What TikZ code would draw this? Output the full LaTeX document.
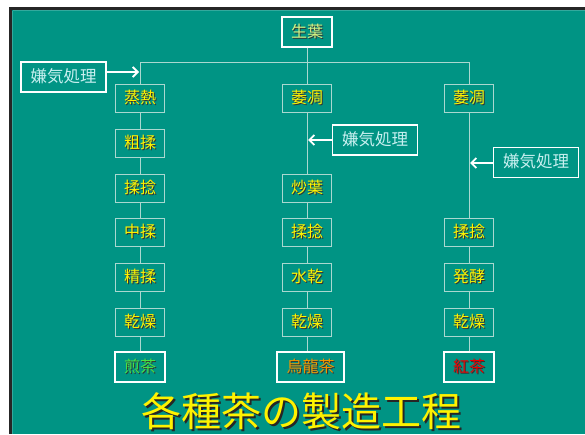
\documentclass[tikz,border=0pt]{standalone}
\usepackage{fontspec}
\newfontfamily\jp{Noto Sans CJK JP}
\usetikzlibrary{arrows.meta}
\definecolor{bg}{RGB}{0,148,132}
\definecolor{lnc}{RGB}{170,216,208}
\definecolor{kc}{RGB}{200,240,240}
\definecolor{seiyo}{RGB}{210,240,130}
\definecolor{sencha}{RGB}{70,225,70}
\definecolor{oolong}{RGB}{240,150,0}
\definecolor{kocha}{RGB}{235,0,0}
\newcommand\shtx[2]{\makebox[0pt][l]{\hspace{1pt}\raisebox{-1pt}{\color{black!80}#2}}{\color{#1}#2}}
\tikzset{
  base/.style={inner sep=0pt, font=\jp\fontsize{16}{16}\selectfont, text height=1.0em, text depth=0em, align=center},
  proc/.style={base, draw=lnc, line width=0.9pt, minimum width=49pt, minimum height=28pt},
  prod/.style={base, draw=white, line width=1.6pt, minimum width=50pt, minimum height=30pt},
  kbox/.style={base, draw=white, line width=1.6pt, minimum width=85pt, minimum height=30pt, text=kc, font=\jp\fontsize{16.5}{16.5}\selectfont},
  ln/.style={draw=lnc, line width=0.9pt},
  arr/.style={draw=white, line width=1.8pt, -{Straight Barb[length=5pt,width=10pt,line width=1.8pt]}},
}
\newcommand\Y[1]{\shtx{yellow}{#1}}
\begin{document}
\begin{tikzpicture}[x=1pt,y=-1pt]
\useasboundingbox (0,0) rectangle (585,434);
\fill[white] (0,0) rectangle (585,434);
\fill[black!85] (9,7) rectangle (585,434);
\fill[bg] (12,10) rectangle (585,434);
\draw[bg!80!white, line width=0.6pt] (12.5,10.5) -- (584.7,10.5);
\draw[bg!80!white, line width=0.6pt] (12.5,10.5) -- (12.5,434);
% top
\node[prod] (s) at (307,32) {\shtx{seiyo}{生葉}};
\coordinate (bar) at (0,62);
% column 1
\node[proc] (a1) at (140,98.5) {\Y{蒸熱}};
\node[proc] (a2) at (140,143) {\Y{粗揉}};
\node[proc] (a3) at (140,188) {\Y{揉捻}};
\node[proc] (a4) at (140,232.5) {\Y{中揉}};
\node[proc] (a5) at (140,277) {\Y{精揉}};
\node[proc] (a6) at (140,322) {\Y{乾燥}};
\node[prod] (a7) at (140,367) {\shtx{sencha}{煎茶}};
% column 2
\node[proc] (b1) at (307,98.5) {\Y{萎凋}};
\node[proc] (b3) at (307,188) {\Y{炒葉}};
\node[proc] (b4) at (307,232.5) {\Y{揉捻}};
\node[proc] (b5) at (307,277) {\Y{水乾}};
\node[proc] (b6) at (307,322) {\Y{乾燥}};
\node[prod, minimum width=67pt] (b7) at (310.5,367) {\shtx{oolong}{烏龍茶}};
% column 3
\node[proc] (c1) at (469,98.5) {\Y{萎凋}};
\node[proc] (c4) at (469,232.5) {\Y{揉捻}};
\node[proc] (c5) at (469,277) {\Y{発酵}};
\node[proc] (c6) at (469,322) {\Y{乾燥}};
\node[prod] (c7) at (469,367) {\shtx{kocha}{紅茶}};
% 嫌気処理 boxes
\node[kbox] (k1) at (63.5,77) {嫌気処理};
\node[kbox] (k2) at (375,140) {嫌気処理};
\node[kbox] (k3) at (536,162.5) {嫌気処理};
% connectors
\draw[ln] (s.south) -- (s.south |- bar);
\draw[ln] (a1.north) -- (a1.north |- bar) -- (c1.north |- bar) -- (c1.north);
\draw[ln] (b1.north) -- (b1.north |- bar);
\draw[ln] (a1) -- (a2); \draw[ln] (a2) -- (a3); \draw[ln] (a3) -- (a4);
\draw[ln] (a4) -- (a5); \draw[ln] (a5) -- (a6); \draw[ln] (a6) -- (a7);
\draw[ln] (b1) -- (b3); \draw[ln] (b3) -- (b4); \draw[ln] (b4) -- (b5);
\draw[ln] (b5) -- (b6); \draw[ln] (b6.south) -- (b6.south |- b7.north);
\draw[ln] (c1) -- (c4); \draw[ln] (c4) -- (c5); \draw[ln] (c5) -- (c6); \draw[ln] (c6) -- (c7);
% arrows
\coordinate (t1) at (139,72);
\coordinate (t2) at (308,140);
\coordinate (t3) at (470,163);
\draw[arr] (k1.east |- t1) -- (t1);
\draw[arr] (k2.west) -- (t2);
\draw[arr] (k3.west |- t3) -- (t3);
% title
\node[inner sep=0pt, font=\jp\fontsize{40}{40}\selectfont, text height=0.7em, text depth=0.1em] (title) at (301,423) {\makebox[0pt][l]{\hspace{2pt}\raisebox{-2pt}{\color{black!85}各種茶の製造工程}}{\color{yellow}各種茶の製造工程}};
\end{tikzpicture}
\end{document}
